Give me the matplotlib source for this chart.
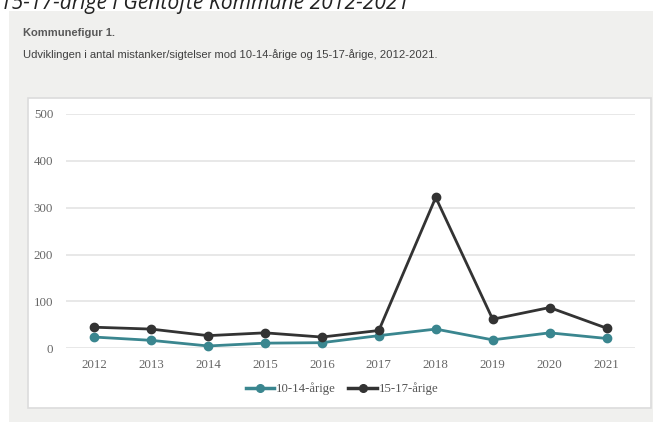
import matplotlib
matplotlib.use("Agg")
import matplotlib.pyplot as plt
from matplotlib.patches import Rectangle
from matplotlib.lines import Line2D

years = ["2012", "2013", "2014", "2015", "2016", "2017", "2018", "2019", "2020", "2021"]
age_10_14 = [24, 17, 5, 11, 12, 27, 41, 18, 33, 21]
age_15_17 = [45, 41, 27, 33, 24, 38, 322, 62, 87, 43]
series_names = ["10-14-årige", "15-17-årige"]
yticks = [0, 100, 200, 300, 400, 500]

W, H = 653, 422
fig = plt.figure(figsize=(W / 100, H / 100), dpi=100)
fig.patch.set_facecolor("white")

def fx(px):
    return px / W

def fy(py):
    return 1 - py / H

# gray outer box
fig.patches.append(Rectangle((fx(9), 0), 1 - fx(9), fy(11), transform=fig.transFigure,
                             facecolor="#f0f0ee", edgecolor="none", zorder=0))
# white inner panel
fig.patches.append(Rectangle((fx(28), fy(408)), fx(651 - 28), (408 - 98) / H,
                             transform=fig.transFigure, facecolor="white",
                             edgecolor="#dcdcdc", linewidth=1.2, zorder=1))

# cut-off italic heading at the very top
fig.text(fx(0), fy(9), "15-17-årige i Gentofte Kommune 2012-2021", fontsize=15.2,
         style="italic", family="Open Sans", color="#222222", va="baseline", ha="left")

fig.text(fx(23), fy(33), "Kommunefigur 1.", fontsize=8.0, fontweight="bold",
         family="Liberation Sans", color="#595959", va="center", ha="left")
fig.text(fx(23), fy(55), "Udviklingen i antal mistanker/sigtelser mod 10-14-årige og 15-17-årige, 2012-2021.",
         fontsize=8.1, family="Liberation Sans", color="#404040", va="center", ha="left")

ax = fig.add_axes([fx(65.7), fy(348.3), fx(635 - 65.7), (348.3 - 114) / H])
ax.set_facecolor("none")
ax.set_zorder(2)
x = list(range(len(years)))
teal = "#3a868f"
dark = "#333333"
ax.plot(x, age_10_14, color=teal, lw=2.0, marker="o", ms=6, clip_on=False, zorder=3,
        label=series_names[0])
ax.plot(x, age_15_17, color=dark, lw=2.0, marker="o", ms=6, clip_on=False, zorder=4,
        label=series_names[1])

ax.set_xlim(-0.5, len(years) - 0.5)
ax.set_ylim(0, 500)
ax.set_yticks(yticks)
ax.set_xticks(x)
ax.set_xticklabels(years)
for s in ax.spines.values():
    s.set_visible(False)
ax.grid(axis="y", color="#e6e6e6", lw=1.3, zorder=0)
ax.set_axisbelow(True)
ax.tick_params(length=0, colors="#666666", labelsize=9.3)
ax.tick_params(axis="y", pad=9)
ax.tick_params(axis="x", pad=8)
for lbl in ax.get_xticklabels() + ax.get_yticklabels():
    lbl.set_family("Liberation Serif")

handles = [Line2D([0], [0], color=teal, lw=2.5, marker="o", ms=5.5),
           Line2D([0], [0], color=dark, lw=2.5, marker="o", ms=5.5)]
leg = fig.legend(handles, series_names, loc="center", bbox_to_anchor=(fx(342), fy(389)),
                 ncol=2, frameon=False, handlelength=2.2, handletextpad=0.15,
                 columnspacing=1.0, prop={"family": "Liberation Serif", "size": 9.2})
for t in leg.get_texts():
    t.set_color("#555555")

fig.savefig("out.png", dpi=100)
